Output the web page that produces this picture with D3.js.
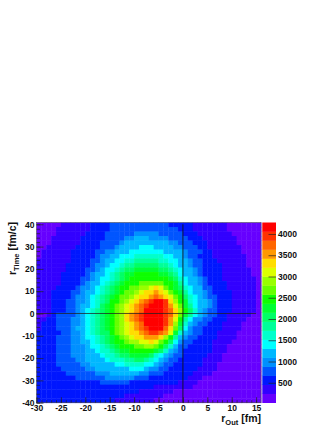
<!DOCTYPE html>
<html>
<head>
<meta charset="utf-8">
<script src="https://cdn.jsdelivr.net/npm/d3@7"></script>
<style>
  html, body { margin: 0; padding: 0; background: #fff; }
  svg { display: block; }
  text { font-family: "Liberation Sans", Arial, sans-serif; font-weight: bold; fill: #111; }
</style>
</head>
<body>
<div id="chart"></div>
<script>
// Histogram bands, top row (r_Time = 40) first, left column (r_Out = -30) first
const bands = [
  [0,0,0,0,0,1,1,1,1,1,1,2,2,2,2,3,3,3,3,3,3,3,3,3,3,3,3,2,2,2,2,2,1,1,1,1,1,1,1,0,0,0,0,0,0,0],
  [0,0,0,0,1,1,1,1,1,1,1,2,2,2,2,3,3,3,3,3,3,3,3,3,3,3,3,3,3,2,2,2,1,1,1,1,1,1,1,0,0,0,0,0,0,0],
  [0,0,0,0,1,1,1,1,1,1,2,2,2,2,3,3,3,3,3,3,4,4,4,4,4,3,3,3,3,3,2,2,2,1,1,1,1,1,1,1,0,0,0,0,0,0],
  [0,0,0,1,1,1,1,1,1,2,2,2,2,2,3,3,3,3,4,4,5,5,5,4,4,4,4,3,3,3,3,2,2,2,1,1,1,1,1,1,1,0,0,0,0,0],
  [0,0,0,1,1,1,1,1,1,2,2,2,2,3,3,3,3,4,5,5,5,5,5,5,5,5,5,4,4,3,3,3,2,2,2,1,1,1,1,1,1,0,0,0,0,0],
  [0,0,1,1,1,1,1,1,2,2,2,2,2,3,3,3,4,5,5,5,5,6,6,6,5,5,5,5,4,4,3,3,3,2,2,1,1,1,1,1,1,1,0,0,0,0],
  [0,1,1,1,1,1,1,2,2,2,2,2,3,3,4,4,5,5,5,6,6,6,6,6,6,6,5,5,5,5,4,3,3,3,2,2,1,1,1,1,1,1,0,0,0,0],
  [0,1,1,1,1,1,1,2,2,2,2,2,3,4,4,5,5,6,6,6,7,7,7,7,7,7,6,6,5,5,4,3,3,2,2,2,1,1,1,1,1,1,1,0,0,0],
  [1,1,1,1,1,1,1,2,2,2,2,3,3,4,5,5,6,6,7,7,8,8,8,8,8,7,7,6,6,5,5,4,3,3,2,2,2,1,1,1,1,1,1,0,0,0],
  [1,1,1,1,1,1,2,2,2,2,2,3,4,4,5,6,6,7,8,8,9,9,9,9,9,8,8,7,6,5,5,4,3,3,2,2,2,2,1,1,1,1,1,0,0,0],
  [1,1,1,1,1,1,2,2,2,2,3,3,4,5,6,6,7,8,9,9,10,10,10,10,10,9,9,8,7,6,5,5,4,3,2,2,2,2,1,1,1,1,1,1,0,0],
  [1,1,1,1,1,2,2,2,2,2,3,4,5,5,6,7,8,9,10,10,11,11,11,11,11,10,10,9,8,6,5,5,4,3,2,2,2,2,1,1,1,1,1,1,0,0],
  [1,1,1,1,1,2,2,2,2,3,3,4,5,6,6,7,8,9,10,11,11,11,11,11,11,11,11,10,9,7,6,5,5,4,3,2,2,2,1,1,1,1,1,1,1,0],
  [1,1,1,1,1,2,2,2,2,3,4,5,5,6,7,8,9,10,11,11,11,12,12,12,12,12,11,11,10,8,6,5,5,4,3,2,2,2,2,1,1,1,1,1,1,0],
  [1,1,1,1,2,2,2,2,3,4,4,5,6,7,8,9,10,11,11,12,12,13,13,14,15,14,12,11,10,9,7,6,5,5,3,3,2,2,2,1,1,1,1,1,1,0],
  [1,1,1,2,2,2,2,3,3,4,5,5,6,7,8,9,10,11,12,12,13,14,15,15,16,15,14,12,11,10,8,6,5,5,4,3,2,2,2,2,1,1,1,1,1,0],
  [1,1,1,2,2,2,2,3,4,4,5,6,7,8,9,10,11,12,12,13,14,15,15,16,17,16,15,14,12,11,9,7,6,5,4,3,3,2,2,2,1,1,1,1,1,0],
  [1,1,1,2,2,2,3,3,4,4,5,6,7,8,9,11,11,12,13,14,15,16,17,18,19,19,18,15,13,11,10,7,6,5,5,4,3,2,2,2,1,1,1,1,1,0],
  [1,1,1,2,2,2,3,3,4,5,5,6,7,9,10,11,12,13,14,15,16,17,18,19,19,19,18,16,14,12,10,8,6,5,5,4,3,2,2,2,1,1,1,1,1,0],
  [1,1,1,2,2,2,3,3,4,5,6,7,8,9,10,11,12,13,14,15,16,17,19,19,19,19,18,17,15,13,11,9,7,5,4,3,3,2,2,2,1,1,1,1,1,0],
  [0,0,1,2,3,3,3,3,4,5,6,7,8,9,10,11,12,13,15,16,17,18,19,19,19,19,18,17,15,12,10,8,6,5,4,3,3,2,2,1,1,1,1,1,0,0],
  [1,1,2,2,3,3,3,4,4,5,6,7,8,9,10,11,12,13,15,16,17,18,19,19,19,19,18,16,14,11,8,6,4,4,3,3,2,2,2,1,1,1,1,0,0,0],
  [1,2,2,2,3,3,3,4,4,5,6,7,8,9,10,11,12,13,14,15,16,17,19,19,19,19,18,16,13,10,7,5,4,3,3,2,2,2,1,1,1,1,0,0,0,0],
  [1,2,2,2,3,3,3,4,5,5,6,7,8,9,10,11,12,13,14,15,16,17,18,19,19,19,17,15,12,9,6,4,3,3,2,2,2,2,1,1,1,1,0,0,0,0],
  [2,2,2,2,2,3,3,4,4,5,6,7,8,9,9,11,12,13,14,15,15,16,17,18,18,17,16,14,10,7,5,4,3,3,2,2,2,1,1,1,1,0,0,0,0,0],
  [2,2,2,2,3,3,3,4,4,5,6,6,7,8,9,10,11,12,13,14,15,15,16,16,16,15,13,11,8,5,4,3,3,2,2,2,2,1,1,1,1,0,0,0,0,0],
  [2,2,2,2,3,3,3,4,4,5,5,6,7,8,9,10,11,11,12,13,13,14,14,15,14,12,11,9,6,4,3,3,2,2,2,2,1,1,1,1,0,0,0,0,0,0],
  [2,2,2,2,3,3,3,4,4,4,5,6,6,7,8,9,10,11,11,11,12,12,13,13,12,11,9,7,5,3,3,2,2,2,2,2,1,1,1,0,0,0,0,0,0,0],
  [2,2,2,2,3,3,3,4,4,4,5,5,6,7,7,8,9,10,10,11,11,11,11,11,10,9,7,5,4,3,2,2,2,2,2,2,1,1,1,0,0,0,0,0,0,0],
  [2,2,2,2,3,3,3,4,4,4,5,5,5,6,7,7,8,9,9,10,10,10,10,9,7,6,5,4,3,3,2,2,2,2,2,1,1,1,0,0,0,0,0,0,0,0],
  [2,2,2,2,3,3,3,3,4,4,5,5,5,5,6,7,7,7,8,8,9,9,8,7,6,5,4,3,3,2,2,2,2,2,1,1,1,1,0,0,0,0,0,0,0,0],
  [2,2,2,2,3,3,3,3,3,4,4,5,5,5,5,5,6,6,7,7,7,7,6,6,5,4,3,3,2,2,2,2,2,2,1,1,1,0,0,0,0,0,0,0,0,0],
  [2,2,2,2,2,3,3,3,3,3,4,4,5,5,5,5,5,5,5,6,6,6,5,4,4,3,3,2,2,2,2,2,2,1,1,1,1,0,0,0,0,0,0,0,0,0],
  [2,2,2,2,2,2,3,3,3,3,3,3,4,4,4,5,5,5,5,5,5,4,4,3,3,3,2,2,2,2,2,2,1,1,1,1,0,0,0,0,0,0,0,0,0,0],
  [2,2,2,2,2,2,2,2,3,3,3,3,3,3,4,4,4,4,4,4,3,3,3,2,2,2,2,2,2,2,2,1,1,1,0,0,0,0,0,0,0,0,0,0,0,0],
  [2,2,2,2,2,2,2,2,2,2,2,2,2,3,3,3,3,3,3,2,2,2,2,2,2,2,2,2,2,1,1,1,1,0,0,0,0,0,0,0,0,0,0,0,0,0],
  [2,2,2,2,2,2,2,2,2,2,2,2,2,2,2,2,2,2,2,2,2,2,2,2,1,1,1,1,1,1,1,1,0,0,0,0,0,0,0,0,0,0,0,0,0,0],
  [2,2,2,2,2,2,2,2,2,2,2,2,2,2,2,2,2,2,2,2,2,1,1,1,1,1,1,1,0,0,0,0,0,0,0,0,0,0,0,0,0,0,0,0,0,0],
  [2,2,2,2,2,2,2,2,2,2,2,2,2,2,2,2,2,2,1,1,1,1,1,1,1,1,0,0,0,0,0,0,0,0,0,0,0,0,0,0,0,0,0,0,0,0],
  [2,2,2,2,2,2,2,2,2,2,2,2,2,2,2,2,1,1,1,1,1,1,1,1,0,0,0,0,0,0,0,0,0,0,0,0,0,0,0,0,0,0,0,0,0,0]
];

const palette = ['#6600ff','#3300ff','#0018ff','#0055ff','#0090ff','#00b8ff','#00ffff','#00ffcc','#00ff99','#00ff66',
                 '#00ff33','#11ff00','#66ff00','#99ff00','#ddff00','#ffdd00','#ff9900','#ff6600','#ff3300','#ff0000'];

const xRange = [-30, 16];
const yRange = [-40, 40.8];
const zRange = [31, 4270];

const xTicks = [-30, -25, -20, -15, -10, -5, 0, 5, 10, 15];
const yTicks = [-40, -30, -20, -10, 0, 10, 20, 30, 40];
const zTicks = [500, 1000, 1500, 2000, 2500, 3000, 3500, 4000];

const width = 331;
const height = 429;
const plot = { left: 36.5, right: 261, top: 222.5, bottom: 402.7 };
const bar = { left: 262.3, right: 276 };

const svg = d3.select('#chart').append('svg')
    .attr('width', width)
    .attr('height', height);

svg.append('filter').attr('id', 'soft')
    .append('feGaussianBlur').attr('stdDeviation', 0.35);

const x = d3.scaleLinear().domain(xRange).range([plot.left, plot.right]);
const y = d3.scaleLinear().domain(yRange).range([plot.bottom, plot.top]);
const z = d3.scaleLinear().domain(zRange).range([plot.bottom, plot.top]);

const nRows = bands.length;
const nCols = bands[0].length;
const colX = d3.scaleLinear().domain([0, nCols]).range(xRange);
const rowY = d3.scaleLinear().domain([0, nRows]).range([yRange[1], yRange[0]]);
const bandZ = d3.scaleLinear().domain([0, palette.length]).range(zRange);

// Heat map cells
const cells = [];
bands.forEach((row, r) => row.forEach((b, c) => cells.push({ r, c, b })));

const clip = svg.append('g').attr('filter', 'url(#soft)');
clip.selectAll('rect.cell')
    .data(cells)
    .enter()
    .append('rect')
    .attr('class', 'cell')
    .attr('x', d => x(colX(d.c)))
    .attr('y', d => y(rowY(d.r)))
    .attr('width', d => x(colX(d.c + 1)) - x(colX(d.c)) + 0.4)
    .attr('height', d => y(rowY(d.r + 1)) - y(rowY(d.r)) + 0.4)
    .attr('fill', d => palette[d.b]);

// Palette bar
clip.selectAll('rect.band')
    .data(palette)
    .enter()
    .append('rect')
    .attr('class', 'band')
    .attr('x', bar.left)
    .attr('width', bar.right - bar.left)
    .attr('y', (d, i) => z(bandZ(i + 1)))
    .attr('height', (d, i) => z(bandZ(i)) - z(bandZ(i + 1)) + 0.3)
    .attr('fill', d => d);

// Frame
svg.append('rect')
    .attr('x', plot.left)
    .attr('y', plot.top)
    .attr('width', plot.right - plot.left)
    .attr('height', plot.bottom - plot.top)
    .attr('fill', 'none')
    .attr('stroke', '#555')
    .attr('stroke-width', 0.6);

// Zero lines
svg.append('line')
    .attr('x1', x(-30)).attr('x2', x(15))
    .attr('y1', y(0)).attr('y2', y(0))
    .attr('stroke', '#222').attr('stroke-opacity', 0.75).attr('stroke-width', 1);
svg.append('line')
    .attr('x1', x(0)).attr('x2', x(0))
    .attr('y1', y(-40)).attr('y2', y(40))
    .attr('stroke', '#111').attr('stroke-opacity', 0.85).attr('stroke-width', 1);

// Axes, ticks point into the plot
function style(g, size) {
    g.select('.domain').remove();
    g.selectAll('line').attr('stroke', '#222').attr('stroke-width', 0.7);
    g.selectAll('text').style('font-size', size + 'px');
}

const xMinor = d3.range(-30, 16, 1);
svg.append('g')
    .attr('transform', `translate(0,${plot.bottom})`)
    .call(d3.axisBottom(x).tickValues(xMinor).tickSize(-2.5).tickFormat(''))
    .call(style, 8.5);
svg.append('g')
    .attr('transform', `translate(0,${plot.bottom})`)
    .call(d3.axisBottom(x).tickValues(xTicks).tickSize(-5.5).tickPadding(2.5).tickFormat(String))
    .call(style, 8.5)
    .call(g => g.selectAll('text').attr('y', 2.5));

const yMinor = d3.range(-40, 41, 2);
svg.append('g')
    .attr('transform', `translate(${plot.left},0)`)
    .call(d3.axisLeft(y).tickValues(yMinor).tickSize(-3.5).tickFormat(''))
    .call(style, 8.5);
svg.append('g')
    .attr('transform', `translate(${plot.left},0)`)
    .call(d3.axisLeft(y).tickValues(yTicks).tickSize(-7).tickPadding(2).tickFormat(String))
    .call(style, 8.5)
    .call(g => g.selectAll('text').attr('x', -2));

svg.append('g')
    .attr('transform', `translate(${bar.right},0)`)
    .call(d3.axisRight(z).tickValues(zTicks).tickSize(-7.5).tickPadding(2).tickFormat(String))
    .call(style, 8.5)
    .call(g => g.selectAll('text').attr('x', 2));

// Axis titles
const xTitle = svg.append('text')
    .attr('x', 261)
    .attr('y', 422)
    .attr('text-anchor', 'end')
    .style('font-size', '10.5px');
xTitle.append('tspan').text('r');
xTitle.append('tspan').attr('dy', 2.5).style('font-size', '7.5px').text('Out');
xTitle.append('tspan').attr('dy', -2.5).text(' [fm]');

const yTitle = svg.append('text')
    .attr('transform', `translate(16,222) rotate(-90)`)
    .attr('text-anchor', 'end')
    .style('font-size', '10.5px');
yTitle.append('tspan').text('r');
yTitle.append('tspan').attr('dy', 2.5).style('font-size', '7.5px').text('Time');
yTitle.append('tspan').attr('dy', -2.5).text(' [fm/c]');
</script>
</body>
</html>
